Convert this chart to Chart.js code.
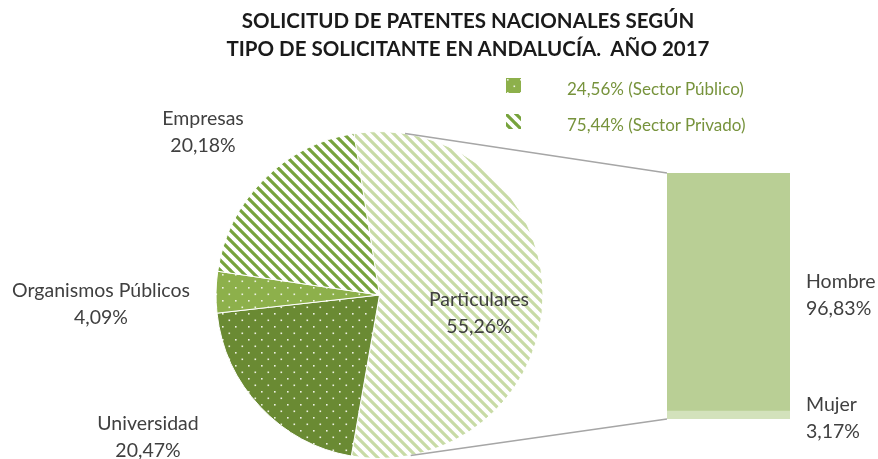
<!DOCTYPE html>
<html>
<head>
<meta charset="utf-8">
<script src="https://cdn.jsdelivr.net/npm/chart.js@4.4.1/dist/chart.umd.min.js"></script>
<style>
  html, body { margin: 0; padding: 0; background: #fff; }
  #wrap { position: relative; width: 878px; height: 459px; overflow: hidden; font-family: 'Lato', sans-serif; }
  #wrap canvas { position: absolute; left: 0; top: 0; }
  .title { position: absolute; left: 0; top: 6px; width: 936px; text-align: center;
           font-weight: bold; font-size: 20.5px; line-height: 28px; color: #1a1a1a; white-space: pre; }
  .lbl { position: absolute; font-size: 19.5px; line-height: 27px; color: #404040; white-space: nowrap; text-align: center; transform: translateX(-50%); }
  .lbl.left { transform: none; text-align: left; }
  .leg { position: absolute; left: 506px; font-size: 17px; color: #77933c; white-space: nowrap; }
  .leg canvas { position: absolute !important; left: 0; top: 3px; }
  .leg span { position: absolute; left: 61px; top: 0; }
</style>
</head>
<body>
<div id="wrap">
  <canvas id="pieChart" width="878" height="459"></canvas>
  <canvas id="barChart" width="878" height="459"></canvas>
  <div class="title">SOLICITUD DE PATENTES NACIONALES SEGÚN
TIPO DE SOLICITANTE EN ANDALUCÍA.  AÑO 2017</div>
  <div id="legend"></div>
  <div id="labels"></div>
</div>
<script>
// data (percent)
const categories = ['Particulares', 'Universidad', 'Organismos Públicos', 'Empresas'];
const shares = [55.26, 20.47, 4.09, 20.18];
const splitLabels = ['Mujer', 'Hombre'];
const splitShares = [3.17, 96.83];
const legendLabels = ['24,56% (Sector Público)', '75,44% (Sector Privado)'];

function pct(v) {
  return v.toFixed(2).replace('.', ',') + '%';
}

// diagonal "\" stripes
function stripes(color, size, width) {
  const c = document.createElement('canvas');
  c.width = c.height = size;
  const g = c.getContext('2d');
  g.fillStyle = '#fff';
  g.fillRect(0, 0, size, size);
  g.strokeStyle = color;
  g.lineWidth = width;
  g.beginPath();
  for (const k of [-size, 0, size]) {
    g.moveTo(k - 1, -1);
    g.lineTo(k + size + 1, size + 1);
  }
  g.stroke();
  return c;
}

// staggered light dots over a solid fill
function dots(bg, size) {
  const c = document.createElement('canvas');
  c.width = c.height = size;
  const g = c.getContext('2d');
  g.fillStyle = bg;
  g.fillRect(0, 0, size, size);
  g.fillStyle = '#eef2e4';
  const h = size / 2;
  g.fillRect(1, 1, 1.6, 1.6);
  g.fillRect(1 + h, 1 + h, 1.6, 1.6);
  return c;
}

const tmp = document.createElement('canvas').getContext('2d');
const tiles = {
  part: stripes('#c8dba6', 10, 3.2),
  uni: dots('#6a8a33', 13),
  org: dots('#8db04b', 13),
  emp: stripes('#77a33c', 10, 3.2),
};
const fills = [tiles.part, tiles.uni, tiles.org, tiles.emp].map(t => tmp.createPattern(t, 'repeat'));

const pieChart = new Chart(document.getElementById('pieChart'), {
  type: 'pie',
  data: {
    labels: categories,
    datasets: [{
      data: shares,
      backgroundColor: fills,
      borderColor: '#ffffff',
      borderWidth: 1,
    }],
  },
  options: {
    responsive: false,
    animation: false,
    rotation: -9,
    layout: { padding: { left: 214, right: 333, top: 131, bottom: 0 } },
    plugins: { legend: { display: false }, tooltip: { enabled: false } },
  },
});

// connector lines from the pie to the split bar
const connectors = {
  id: 'connectors',
  afterDraw(chart) {
    const arc = pieChart.getDatasetMeta(0).data[0];
    const top = chart.getDatasetMeta(1).data[0];
    const bottom = chart.getDatasetMeta(0).data[0];
    const left = top.x - top.width / 2;
    const ang = d => (d - 90) * Math.PI / 180;
    const r = arc.outerRadius;
    const ctx = chart.ctx;
    ctx.save();
    ctx.strokeStyle = '#a6a6a6';
    ctx.lineWidth = 1.3;
    ctx.beginPath();
    ctx.moveTo(arc.x + r * Math.cos(ang(9)), arc.y + r * Math.sin(ang(9)));
    ctx.lineTo(left, top.y);
    ctx.moveTo(arc.x + r * Math.cos(ang(169)), arc.y + r * Math.sin(ang(169)));
    ctx.lineTo(left, bottom.base);
    ctx.stroke();
    ctx.restore();
  },
};

const barChart = new Chart(document.getElementById('barChart'), {
  type: 'bar',
  data: {
    labels: ['Particulares'],
    datasets: [
      { label: splitLabels[0], data: [splitShares[0]], backgroundColor: '#d3e2bc' },
      { label: splitLabels[1], data: [splitShares[1]], backgroundColor: '#b9cf95' },
    ],
  },
  options: {
    responsive: false,
    animation: false,
    barPercentage: 1,
    categoryPercentage: 1,
    layout: { padding: { left: 667, right: 88, top: 173, bottom: 40 } },
    scales: {
      x: { stacked: true, display: false },
      y: { stacked: true, display: false, min: 0, max: 100 },
    },
    plugins: { legend: { display: false }, tooltip: { enabled: false } },
  },
  plugins: [connectors],
});

// data labels (Excel-style placement)
const labelSpots = [
  { x: 479, y: 285 },
  { x: 148, y: 409 },
  { x: 101, y: 276 },
  { x: 203, y: 104 },
];
const splitSpots = [
  { x: 806, y: 390 },
  { x: 806, y: 267 },
];
const labelBox = document.getElementById('labels');
categories.forEach((name, i) => {
  const d = document.createElement('div');
  d.className = 'lbl';
  d.style.left = labelSpots[i].x + 'px';
  d.style.top = labelSpots[i].y + 'px';
  d.innerHTML = name + '<br>' + pct(shares[i]);
  labelBox.appendChild(d);
});
splitLabels.forEach((name, i) => {
  const d = document.createElement('div');
  d.className = 'lbl left';
  d.style.left = splitSpots[i].x + 'px';
  d.style.top = splitSpots[i].y + 'px';
  d.innerHTML = name + '<br>' + pct(splitShares[i]);
  labelBox.appendChild(d);
});

// legend: public sector (dots) and private sector (stripes)
const legendBox = document.getElementById('legend');
[tiles.org, tiles.emp].forEach((tile, i) => {
  const row = document.createElement('div');
  row.className = 'leg';
  row.style.top = (78 + i * 36) + 'px';
  const ic = document.createElement('canvas');
  ic.width = 15; ic.height = 15;
  const g = ic.getContext('2d');
  g.fillStyle = g.createPattern(tile, 'repeat');
  g.fillRect(0, 0, 15, 15);
  row.appendChild(ic);
  const s = document.createElement('span');
  s.textContent = legendLabels[i];
  row.appendChild(s);
  legendBox.appendChild(row);
});
</script>
</body>
</html>
